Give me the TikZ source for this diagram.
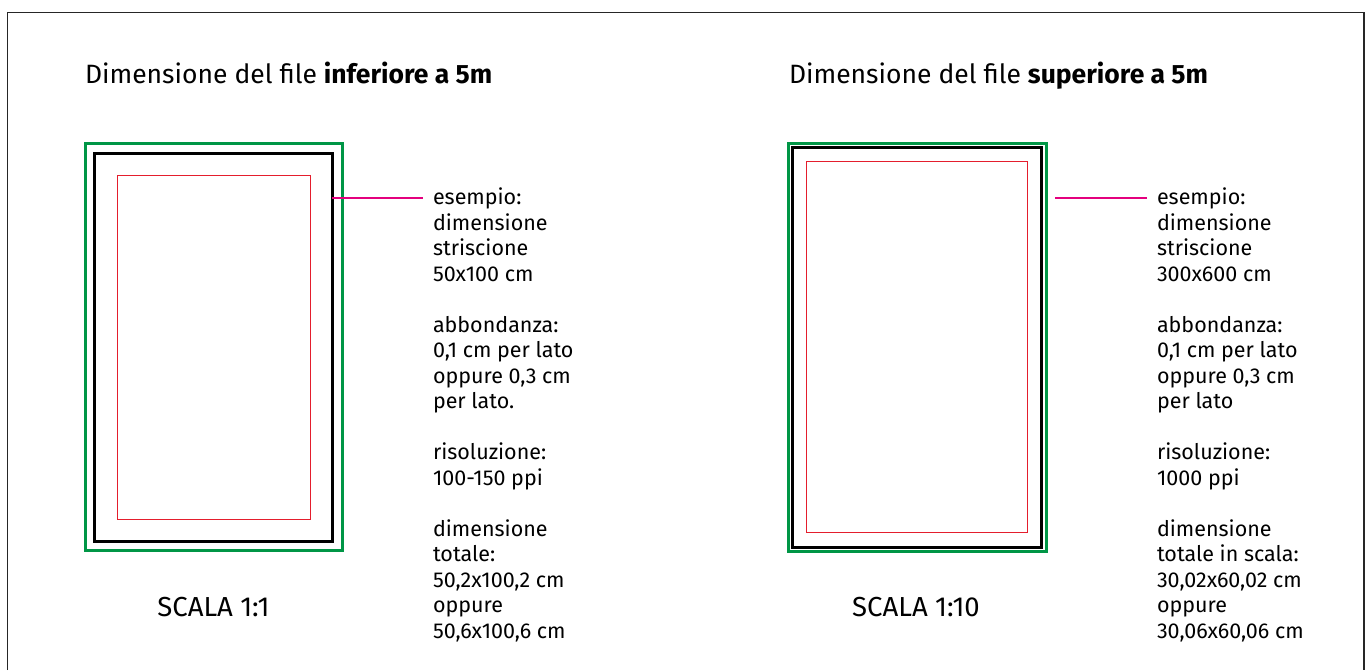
\documentclass[tikz,border=0pt]{standalone}
\usepackage{fontspec}
\setmainfont{Fira Sans}
\usetikzlibrary{positioning}
\definecolor{bleedgreen}{RGB}{0,150,70}
\definecolor{safered}{RGB}{228,30,45}
\definecolor{leadmag}{RGB}{228,0,126}

\begin{document}
\begin{tikzpicture}[
  x=1pt, y=-1pt,
  every node/.style={inner sep=0pt, outer sep=0pt},
  title/.style={anchor=base west, font=\fontsize{26.5}{30}\selectfont},
  info/.style={anchor=north west, align=left, font=\fontsize{21.5}{25.5}\selectfont},
  scalelbl/.style={anchor=base, font=\fontsize{27.5}{30}\selectfont},
  greenbox/.style={draw=bleedgreen, line width=3pt},
  blackbox/.style={draw=black, line width=3pt},
  redbox/.style={draw=safered, line width=1pt},
  leader/.style={draw=leadmag, line width=2pt},
  sheet/.style={draw=black!85, line width=1.5pt}
]
  \useasboundingbox (0,0) rectangle (1367,670);
  \draw[sheet] (7.5,670) -- (7.5,12.5) -- (1364,12.5) -- (1364,670);

  % left: file below 5m
  \node[title] (titleA) at (85,83) {Dimensione del file \textbf{inferiore a 5m}};
  \node[greenbox, minimum width=257pt, minimum height=407pt] (greenA) at (213.5,346.5) {};
  \node[blackbox, minimum width=238pt, minimum height=388pt] (blackA) at (213,347) {};
  \node[redbox, minimum width=193pt, minimum height=344pt] (redA) at (213.5,347) {};
  \node[scalelbl] (scaleA) at (213.5,616) {SCALA 1:1};
  \coordinate (leadA) at (423,198);
  \draw[leader] (blackA.east |- leadA) -- (leadA);
  \node[info] (infoA) at (433,188) {esempio:\\dimensione\\striscione\\50x100 cm\\[25.5pt]
    abbondanza:\\0,1 cm per lato\\oppure 0,3 cm\\per lato.\\[25.5pt]
    risoluzione:\\100-150 ppi\\[25.5pt]
    dimensione\\totale:\\50,2x100,2 cm\\oppure\\50,6x100,6 cm};

  % right: file above 5m
  \node[title] (titleB) at (789,83) {Dimensione del file \textbf{superiore a 5m}};
  \node[greenbox, minimum width=258pt, minimum height=408pt] (greenB) at (917,347) {};
  \node[blackbox, minimum width=249pt, minimum height=400pt] (blackB) at (916.5,347) {};
  \node[redbox, minimum width=221pt, minimum height=371pt] (redB) at (916.5,346.5) {};
  \node[scalelbl] (scaleB) at (916,616) {SCALA 1:10};
  \coordinate (leadB) at (1147,198);
  \draw[leader] ([xshift=9pt]greenB.east |- leadB) -- (leadB);
  \node[info] (infoB) at (1157,188) {esempio:\\dimensione\\striscione\\300x600 cm\\[25.5pt]
    abbondanza:\\0,1 cm per lato\\oppure 0,3 cm\\per lato\\[25.5pt]
    risoluzione:\\1000 ppi\\[25.5pt]
    dimensione\\totale in scala:\\30,02x60,02 cm\\oppure\\30,06x60,06 cm};
\end{tikzpicture}
\end{document}
